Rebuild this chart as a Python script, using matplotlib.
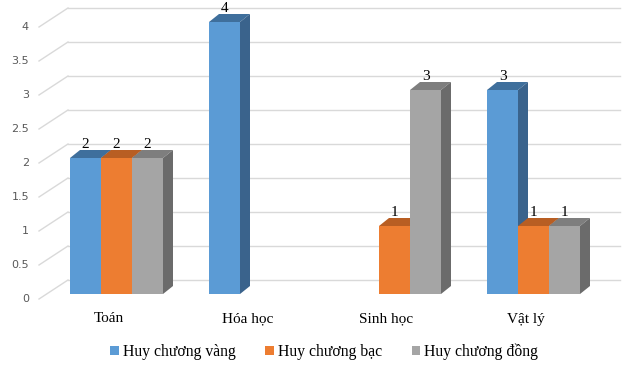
import numpy as np
import matplotlib
matplotlib.use("Agg")
import matplotlib.pyplot as plt
from matplotlib.patches import Polygon, Rectangle, Patch

# Dữ liệu
mon_hoc = ["Toán", "Hóa học", "Sinh học", "Vật lý"]
vang = [2, 4, 0, 3]
bac = [2, 0, 1, 1]
dong = [2, 0, 3, 1]
ten_series = ["Huy chương vàng", "Huy chương bạc", "Huy chương đồng"]
y_ticks = [0, 0.5, 1, 1.5, 2, 2.5, 3, 3.5, 4]
y_tick_labels = ["0", "0.5", "1", "1.5", "2", "2.5", "3", "3.5", "4"]

# Màu: mặt trước, mặt trên, mặt bên
mau = [("#5B9BD5", "#3F6F9C", "#3A638C"),
       ("#ED7D31", "#B85E23", "#A9561F"),
       ("#A5A5A5", "#7E7E7E", "#6B6B6B")]

W, H = 636, 367
px_x = 139.0   # pixel / 1 đơn vị x
px_y = 68.0    # pixel / 1 đơn vị y
x0_px, y0_px = 116.5, 294.0

fig = plt.figure(figsize=(W / 100, H / 100), dpi=100)
ax = fig.add_axes([0, 0, 1, 1])
ax.set_xlim(-x0_px / px_x, (W - x0_px) / px_x)
ax.set_ylim(-(H - y0_px) / px_y, y0_px / px_y)
ax.axis("off")

# Luoi (tuong phia sau + duong cheo)
back_dy = 14 / px_y
back_x0 = (68 - x0_px) / px_x
back_x1 = (620 - x0_px) / px_x
diag_x = (39 - x0_px) / px_x
diag_dy = -5 / px_y
for v, lab in zip(y_ticks, y_tick_labels):
    ax.plot([back_x0, back_x1], [v + back_dy, v + back_dy], color="#D9D9D9", lw=1, zorder=1)
    ax.plot([diag_x, back_x0], [v + diag_dy, v + back_dy], color="#D9D9D9", lw=1, zorder=1)
    ax.text((29 - x0_px) / px_x, v + diag_dy, lab, ha="right", va="center",
            fontsize=8, color="#595959", family="DejaVu Sans")

# Cot 3D
bw = 31 / px_x
ddx = 10 / px_x
ddy = 8 / px_y
series = [vang, bac, dong]
x = np.arange(len(mon_hoc))
z = 2
for i in range(len(mon_hoc)):
    for k, vals in enumerate(series):
        v = vals[i]
        if v == 0:
            continue
        xl = x[i] + (k - 1.5) * bw
        xr = xl + bw
        f, t, s = mau[k]
        ax.add_patch(Rectangle((xl, 0), bw, v, facecolor=f, edgecolor="none", zorder=z))
        ax.add_patch(Polygon([(xl, v), (xr, v), (xr + ddx, v + ddy), (xl + ddx, v + ddy)],
                             closed=True, facecolor=t, edgecolor="none", zorder=z))
        ax.add_patch(Polygon([(xr, 0), (xr + ddx, ddy), (xr + ddx, v + ddy), (xr, v)],
                             closed=True, facecolor=s, edgecolor="none", zorder=z))
        ax.text(xl + bw / 2, v + 14 / px_y, str(v), ha="center", va="center",
                fontsize=11, family="Liberation Serif", color="black", zorder=10)
        z += 1

# Nhan danh muc
for i, m in enumerate(mon_hoc):
    ax.text(x[i] - 8 / px_x, -25 / px_y, m, ha="center", va="center",
            fontsize=11, family="Liberation Serif", color="black")

handles = [Patch(facecolor=mau[k][0], edgecolor="none", label=ten_series[k]) for k in range(3)]
fig.legend(handles=handles, loc="center", bbox_to_anchor=(324 / W, 1 - 352 / H), ncol=3,
           frameon=False, prop={"family": "Liberation Serif", "size": 11.3},
           handlelength=0.55, handleheight=0.55, handletextpad=0.25, columnspacing=1.9)

fig.savefig("out.png", dpi=100)
